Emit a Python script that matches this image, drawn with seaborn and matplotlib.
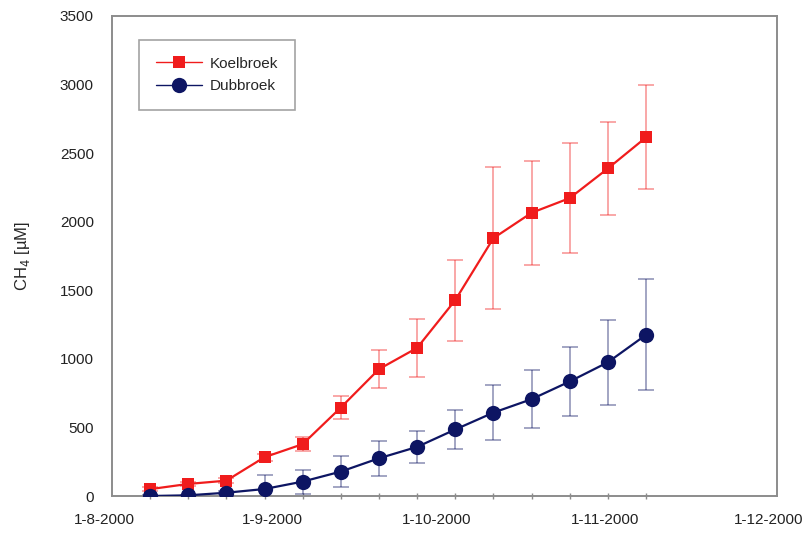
import matplotlib
matplotlib.use("Agg")
import matplotlib.pyplot as plt
import matplotlib.transforms as mtransforms
import numpy as np
import pandas as pd
import seaborn as sns

# Weekly sampling dates (day-month-year)
dates = ["8-8-2000", "15-8-2000", "22-8-2000", "29-8-2000", "5-9-2000",
         "12-9-2000", "19-9-2000", "26-9-2000", "3-10-2000", "10-10-2000",
         "17-10-2000", "24-10-2000", "31-10-2000", "7-11-2000"]

# CH4 concentration (uM) and standard deviation per site
koelbroek = [50, 88, 112, 283, 378, 645, 925, 1080, 1428, 1880, 2065, 2172, 2388, 2615]
koelbroek_sd = [15, 15, 20, 25, 52, 85, 140, 213, 295, 520, 380, 400, 340, 380]
dubbroek = [0, 5, 24, 51, 105, 178, 275, 358, 485, 608, 706, 835, 975, 1175]
dubbroek_sd = [5, 5, 10, 100, 88, 112, 129, 115, 140, 200, 210, 255, 308, 405]

series_names = ["Koelbroek", "Dubbroek"]
x_ticks = ["1-8-2000", "1-9-2000", "1-10-2000", "1-11-2000", "1-12-2000"]
y_ticks = [0, 500, 1000, 1500, 2000, 2500, 3000, 3500]

red = "#f01c1c"
navy = "#0d1563"

t = pd.to_datetime(dates, format="%d-%m-%Y")
df = pd.DataFrame({
    "date": np.concatenate([t, t]),
    "ch4": koelbroek + dubbroek,
    "sd": koelbroek_sd + dubbroek_sd,
    "site": [series_names[0]] * len(t) + [series_names[1]] * len(t),
})

sns.set_style("white")
plt.rcParams["font.family"] = ["Liberation Sans", "DejaVu Sans"]

fig = plt.figure(figsize=(8.05, 5.33), dpi=100)
ax = fig.add_axes([0.139, 0.0694, 0.826, 0.9006])

# Error bars first, drawn lighter behind the lines
for name, col in zip(series_names, [red, navy]):
    sub = df[df["site"] == name]
    ax.errorbar(sub["date"], sub["ch4"], yerr=sub["sd"], fmt="none",
                ecolor=col, alpha=0.45, elinewidth=1.2, capsize=6,
                capthick=1.2, zorder=1)

sns.lineplot(data=df, x="date", y="ch4", hue="site", style="site",
             palette={series_names[0]: red, series_names[1]: navy},
             markers={series_names[0]: "s", series_names[1]: "o"},
             dashes=False, markersize=9, markeredgewidth=0, linewidth=1.6,
             ax=ax, zorder=3)
# Larger circles for the second series
for line in ax.get_lines():
    if line.get_marker() == "o":
        line.set_markersize(11)

xt = pd.to_datetime(x_ticks, format="%d-%m-%Y")
ax.set_xlim(xt[0], xt[-1])
ax.set_xticks(xt)
ax.set_xticklabels(x_ticks)
ax.set_xticks(t, minor=True)
ax.set_ylim(0, 3500)
ax.set_yticks(y_ticks)
ax.set_xlabel("")
ax.set_ylabel("CH$_4$ [µM]", fontsize=12, labelpad=20)

grey = "#8c8c8c"
for s in ax.spines.values():
    s.set_color(grey)
    s.set_linewidth(1.4)
ax.tick_params(axis="both", which="major", length=5, width=1.2, color=grey,
               labelsize=11, labelcolor="#222222")
ax.tick_params(axis="x", which="major", direction="inout", length=8, pad=8)
ax.tick_params(axis="x", which="minor", direction="inout", length=5, width=1, color=grey, bottom=True)
ax.tick_params(axis="y", which="major", direction="out", pad=8)

# Date labels sit slightly left of their ticks
shift = mtransforms.ScaledTranslation(-8 / 100, 0, fig.dpi_scale_trans)
for lab in ax.get_xticklabels():
    lab.set_transform(lab.get_transform() + shift)

handles, labels = ax.get_legend_handles_labels()
leg = ax.legend(handles, labels, loc="upper left", bbox_to_anchor=(0.041, 0.95),
                borderaxespad=0, frameon=True, fancybox=False, edgecolor=grey,
                fontsize=11, handlelength=3.0, handletextpad=0.5,
                borderpad=1.1, labelspacing=0.55)
leg.get_frame().set_linewidth(1.2)
for h in leg.legend_handles:
    h.set_linewidth(1.0)

fig.savefig("out.png", dpi=100)
